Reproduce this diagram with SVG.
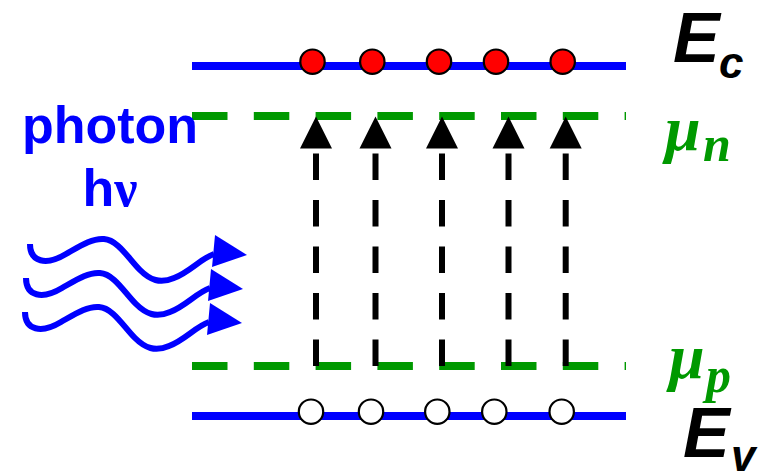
<svg xmlns="http://www.w3.org/2000/svg" width="764" height="472" viewBox="0 0 764 472">
  <style>
    .band { stroke: #0000ff; stroke-width: 8; fill: none; }
    .quasi { stroke: #009900; stroke-width: 8; fill: none; stroke-dasharray: 35.5 26.3; }
    .electron { fill: #ff0000; stroke: #000; stroke-width: 2.2; }
    .hole { fill: #fff; stroke: #000; stroke-width: 2.2; }
    .jump { stroke: #000; stroke-width: 6; fill: none; stroke-dasharray: 26.5 20; }
    .head { fill: #000; }
    .wave { stroke: #0000ff; stroke-width: 6; fill: none; stroke-linecap: butt; }
    .whead { fill: #0000ff; }
    .energy { font-family: "Liberation Sans", Arial, sans-serif; font-weight: bold; font-style: italic; fill: #000; }
    .level { font-family: "Liberation Serif", "Times New Roman", serif; font-weight: bold; font-style: italic; fill: #009900; }
    .photon { font-family: "Liberation Sans", Arial, sans-serif; font-weight: bold; fill: #0000ff; font-size: 52px; text-anchor: middle; }
  </style>

  <!-- band edges -->
  <g id="conduction-band">
    <line class="band" x1="192" y1="66" x2="626" y2="66"/>
  </g>
  <g id="valence-band">
    <line class="band" x1="192" y1="416" x2="626" y2="416"/>
  </g>

  <!-- quasi-Fermi levels -->
  <g id="quasi-fermi-n">
    <line class="quasi" x1="192" y1="116" x2="626" y2="116"/>
  </g>
  <g id="quasi-fermi-p">
    <line class="quasi" x1="192" y1="366" x2="626" y2="366"/>
  </g>

  <!-- upward transitions from valence to conduction band -->
  <g id="transitions">
    <path class="jump" d="M316 366V150"/>
    <path class="jump" d="M375.5 366V150"/>
    <path class="jump" d="M442 366V150"/>
    <path class="jump" d="M508.5 366V150"/>
    <path class="jump" d="M565.7 366V150"/>
    <polygon class="head" points="316,116.5 332,148.5 300,148.5"/>
    <polygon class="head" points="375.5,116.5 391.5,148.5 359.5,148.5"/>
    <polygon class="head" points="442,116.5 458,148.5 426,148.5"/>
    <polygon class="head" points="508.5,116.5 524.5,148.5 492.5,148.5"/>
    <polygon class="head" points="565.7,116.5 581.7,148.5 549.7,148.5"/>
  </g>

  <!-- electrons in the conduction band -->
  <g id="electrons">
    <circle class="electron" cx="312.5" cy="61.7" r="12.2"/>
    <circle class="electron" cx="372.3" cy="61.7" r="12.2"/>
    <circle class="electron" cx="439" cy="61.7" r="12.2"/>
    <circle class="electron" cx="496" cy="61.7" r="12.2"/>
    <circle class="electron" cx="562.7" cy="61.7" r="12.2"/>
  </g>

  <!-- holes in the valence band -->
  <g id="holes">
    <circle class="hole" cx="311" cy="411.7" r="12.2"/>
    <circle class="hole" cx="371" cy="411.7" r="12.2"/>
    <circle class="hole" cx="437.3" cy="411.7" r="12.2"/>
    <circle class="hole" cx="494.3" cy="411.7" r="12.2"/>
    <circle class="hole" cx="561.7" cy="411.7" r="12.2"/>
  </g>

  <!-- incoming photons -->
  <g id="photon">
    <text class="photon" x="110" y="143">photon</text>
    <text class="photon" x="110" y="206">h<tspan font-family="'Liberation Serif', serif">ν</tspan></text>
    <defs>
      <g id="ray">
        <path class="wave" d="M30 244C30 262 46 266 66 254C80 246 92 238 104 239C118 240 128 258 140 270C150 280 160 284 174 278C190 272 200 259 214 254"/>
        <polygon class="whead" points="215,235 212,267 247,255"/>
      </g>
    </defs>
    <use href="#ray"/>
    <use href="#ray" transform="translate(-4 34)"/>
    <use href="#ray" transform="translate(-5 68)"/>
  </g>

  <!-- level labels -->
  <g id="label-Ec">
    <text class="energy" x="673" y="62" font-size="70">E<tspan font-size="44" x="719" y="78">c</tspan></text>
  </g>
  <g id="label-mun">
    <text class="level" x="665" y="150" font-size="64">μ<tspan font-size="50" x="703" y="161">n</tspan></text>
  </g>
  <g id="label-mup">
    <text class="level" x="669" y="378" font-size="64">μ<tspan font-size="50" x="706" y="392">p</tspan></text>
  </g>
  <g id="label-Ev">
    <text class="energy" x="683" y="457" font-size="70">E<tspan font-size="44" x="731" y="471">v</tspan></text>
  </g>
</svg>
